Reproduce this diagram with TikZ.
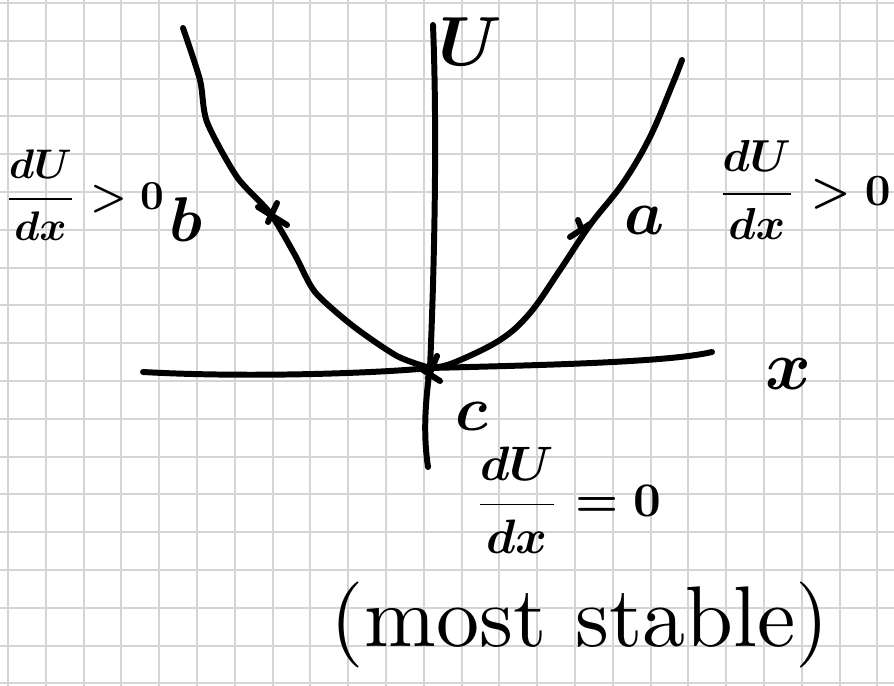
\documentclass[tikz,border=0pt]{standalone}
\usepackage{amsmath}
\usetikzlibrary{positioning}
\definecolor{gridgray}{RGB}{212,212,212}
\tikzset{
  hand/.style={line width=3.4pt, line cap=round, line join=round},
  gridline/.style={gridgray, line width=1.1pt},
  lbl/.style={inner sep=0pt, font=\boldmath, scale=3.6, transform shape},
  eqlbl/.style={inner sep=0pt, font=\boldmath, transform shape},
}

\begin{document}
\begin{tikzpicture}[x=0.02cm, y=-0.02cm]
  \useasboundingbox (0,0) rectangle (894,686);
  \fill[white] (0,0) rectangle (894,686);

  % squared paper
  \foreach \i in {0,...,23}
    \draw[gridline] ({8+37.8*\i},0) -- ({8+37.8*\i},686);
  \foreach \j in {0,...,18}
    \draw[gridline] (0,{3+37.8*\j}) -- (894,{3+37.8*\j});

  % axes
  \coordinate (c) at (430,368);
  \coordinate (utop) at (433,25);
  \coordinate (ubot) at (428,467);
  \coordinate (xleft) at (143,372);
  \coordinate (xright) at (712,352);
  \draw[hand] (utop) .. controls (438,150) and (433,300) .. (c)
    .. controls (424,410) and (424,440) .. (ubot);
  \draw[hand] (xleft) .. controls (250,378) and (380,373) .. (c)
    .. controls (550,365) and (670,362) .. (xright);

  % potential curve
  \draw[hand] plot[smooth, tension=0.45] coordinates {(183,28) (200,80) (207,122)
    (237,177) (270,213) (295,255) (315,292) (353,326) (397,356) (430,368)};
  \draw[hand] plot[smooth, tension=0.6] coordinates {(430,368) (453,363) (500,340)
    (530,313) (560,270) (590,225) (623,183) (650,137) (673,83) (682,60)};

  % marks on the curve
  \draw[hand] (258,207) -- (287,225);
  \draw[hand] (277,203) -- (268,222);
  \draw[hand] (570,237) -- (590,224);
  \draw[hand] (578,220) -- (583,233);
  \draw[hand] (437,356) -- (428,378);
  \draw[hand] (420,368) -- (440,381);

  \node[lbl, scale=1.1] (ulbl) at (470,42) {$U$};
  \node[lbl, scale=1.1] (xlbl) at (788,374) {$x$};
  \node[lbl] (albl) at (645,220) {$a$};
  \node[lbl] (blbl) at (186,220) {$b$};
  \node[lbl] (clbl) at (472,416) {$c$};

  \node[eqlbl, scale=2.35] (lefteq) at (84,195) {$\dfrac{dU}{dx}>0$};
  \node[eqlbl, scale=2.55] (righteq) at (804,190) {$\dfrac{dU}{dx}>0$};
  \node[eqlbl, scale=2.75] (mideq) at (568,500) {$\dfrac{dU}{dx}=0$};
  \node[inner sep=0pt, scale=4.9, transform shape] (stable) at (580,625) {(most stable)};
\end{tikzpicture}
\end{document}
